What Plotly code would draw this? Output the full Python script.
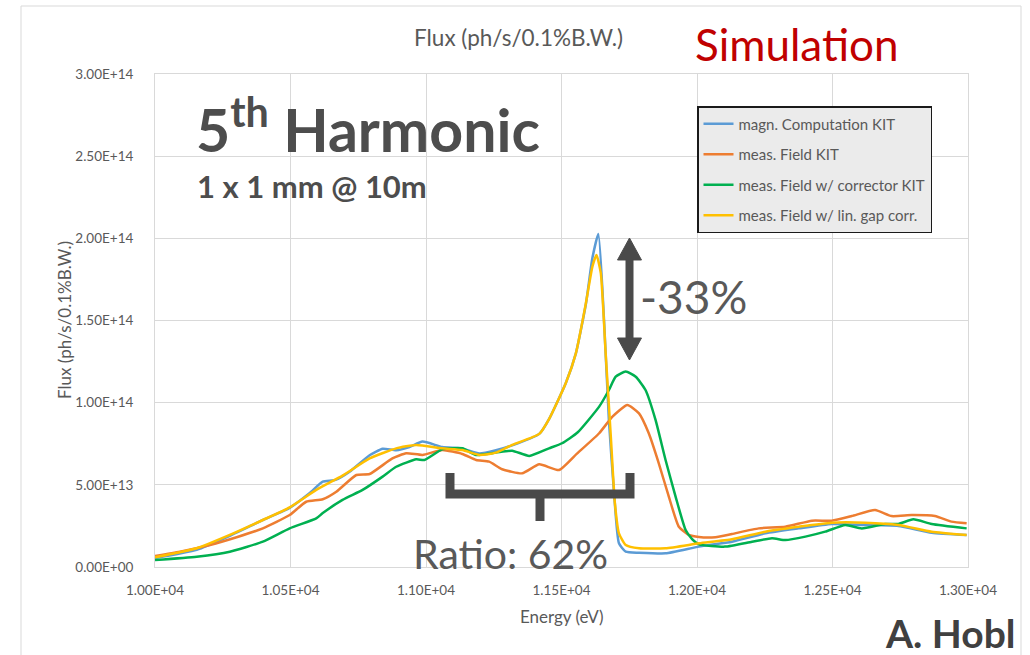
import plotly.graph_objects as go

# ---- data: photon flux (ph/s/0.1%B.W.) vs. energy (eV), 5th harmonic ----
energy_magn = [10000, 10154, 10276, 10398, 10497, 10571, 10619, 10666, 10718, 10792,
               10840, 10890, 10939, 10987, 11060, 11134, 11197, 11258, 11318, 11418,
               11454, 11516, 11553, 11590, 11614, 11636, 11657, 11675, 11694, 11712,
               11737, 11786, 11884, 12007, 12129, 12252, 12375, 12497, 12620, 12743,
               12866, 12995]
flux_magn = [0.55, 1.05, 1.90, 2.86, 3.60, 4.50, 5.19, 5.30, 5.80, 6.80,
             7.20, 7.10, 7.30, 7.63, 7.30, 7.20, 6.90, 7.10, 7.40, 8.10,
             9.00, 11.2, 13.0, 16.0, 18.8, 20.27, 15.0, 8.9, 4.5, 1.44,
             0.93, 0.87, 0.83, 1.24, 1.54, 2.05, 2.35, 2.62, 2.56, 2.50,
             2.09, 1.95]

energy_meas = [10000, 10092, 10203, 10301, 10398, 10497, 10558, 10619, 10669, 10743,
               10792, 10876, 10927, 10987, 11060, 11134, 11185, 11233, 11281, 11355,
               11418, 11491, 11557, 11639, 11688, 11743, 11786, 11822, 11859, 11896,
               11933, 11970, 12007, 12068, 12129, 12228, 12326, 12424, 12497, 12571,
               12657, 12718, 12792, 12878, 12939, 12995]
flux_meas = [0.67, 0.93, 1.34, 1.81, 2.35, 3.16, 3.97, 4.12, 4.58, 5.60,
             5.66, 6.61, 6.92, 6.82, 7.12, 6.88, 6.51, 6.41, 5.95, 5.70,
             6.25, 5.90, 6.90, 8.14, 9.15, 9.86, 9.35, 8.14, 6.31, 4.28,
             2.45, 1.95, 1.82, 1.81, 2.01, 2.35, 2.45, 2.82, 2.82, 3.10,
             3.47, 3.10, 3.16, 3.10, 2.76, 2.66]

energy_corr = [10000, 10154, 10276, 10398, 10497, 10595, 10619, 10692, 10766, 10840,
               10890, 10964, 10994, 11060, 11134, 11185, 11258, 11318, 11381, 11454,
               11502, 11560, 11639, 11675, 11700, 11737, 11774, 11810, 11847, 11884,
               11921, 11958, 11982, 12007, 12103, 12203, 12277, 12326, 12400, 12473,
               12547, 12608, 12694, 12743, 12798, 12866, 12995]
flux_corr = [0.43, 0.63, 0.93, 1.54, 2.35, 2.96, 3.28, 4.08, 4.69, 5.50,
             6.10, 6.55, 6.51, 7.16, 7.22, 6.82, 6.96, 7.08, 6.76, 7.22,
             7.53, 8.20, 9.76, 10.77, 11.58, 11.89, 11.58, 10.77, 8.95, 6.51,
             4.28, 2.25, 1.70, 1.38, 1.24, 1.54, 1.75, 1.64, 1.85, 2.15,
             2.56, 2.35, 2.62, 2.62, 2.90, 2.62, 2.35]

energy_gap = [10000, 10154, 10276, 10398, 10497, 10595, 10692, 10792, 10890, 10964,
              11060, 11134, 11197, 11258, 11318, 11418, 11454, 11516, 11553, 11590,
              11614, 11629, 11645, 11663, 11682, 11697, 11712, 11737, 11786, 11884,
              12007, 12129, 12252, 12375, 12497, 12620, 12743, 12866, 12995]
flux_gap = [0.59, 1.14, 1.95, 2.86, 3.63, 4.69, 5.56, 6.61, 7.22, 7.43,
            7.22, 7.12, 6.82, 6.96, 7.43, 8.10, 9.00, 11.2, 13.0, 16.05,
            18.28, 18.99, 17.88, 13.0, 7.93, 3.88, 2.05, 1.34, 1.14, 1.14,
            1.44, 1.69, 2.15, 2.45, 2.70, 2.70, 2.56, 2.15, 1.95]

FLUX_UNIT = 1e13

series_names = ["magn. Computation KIT", "meas. Field KIT",
                "meas. Field w/ corrector KIT", "meas. Field w/ lin. gap corr."]
series_colors = ["#5B9BD5", "#ED7D31", "#00B050", "#FFC000"]
series_x = [energy_magn, energy_meas, energy_corr, energy_gap]
series_y = [flux_magn, flux_meas, flux_corr, flux_gap]

x_ticks = [10000, 10500, 11000, 11500, 12000, 12500, 13000]
x_tick_labels = ["1.00E+04", "1.05E+04", "1.10E+04", "1.15E+04",
                 "1.20E+04", "1.25E+04", "1.30E+04"]
y_ticks = [0, 5e13, 1e14, 1.5e14, 2e14, 2.5e14, 3e14]
y_tick_labels = ["0.00E+00", "5.00E+13", "1.00E+14", "1.50E+14",
                 "2.00E+14", "2.50E+14", "3.00E+14"]

# ---- page geometry (pixels) ----
W, H = 1030, 655
L, R, T, B = 155, 968, 74, 567
FONT = "Lato"
GRID = "#d9d9d9"
TEXT = "#595959"
DARK = "#4a4a4a"


def xp(px):
    return (px - L) / (R - L)


def yp(py):
    return (B - py) / (B - T)


fig = go.Figure()
for i, (name, color, xs, ys) in enumerate(zip(series_names, series_colors, series_x, series_y)):
    fig.add_trace(go.Scatter(
        x=xs, y=[v * FLUX_UNIT for v in ys], name=name, mode="lines",
        legendgroup=f"g{i}",
        line=dict(color=color, width=2.5, shape="spline", smoothing=0.5),
    ))

axis_common = dict(
    showgrid=True, gridcolor=GRID, gridwidth=1,
    showline=True, linecolor=GRID, linewidth=1, mirror=True,
    zeroline=False, ticks="",
    tickfont=dict(family=FONT, size=13.5, color=TEXT),
)

fig.update_layout(
    width=W, height=H,
    margin=dict(l=L, r=W - R, t=T, b=H - B),
    paper_bgcolor="white", plot_bgcolor="white",
    font=dict(family=FONT, color=TEXT),
    xaxis=dict(range=[10000, 13000], tickvals=x_ticks, ticktext=x_tick_labels,
               ticklabelstandoff=11, **axis_common),
    yaxis=dict(range=[0, 3e14], tickvals=y_ticks, ticktext=y_tick_labels,
               ticklabelstandoff=18, **axis_common),
    legend=dict(
        x=xp(697), y=yp(106), xanchor="left", yanchor="top",
        bgcolor="#ebebeb", bordercolor="#1a1a1a", borderwidth=1.5,
        font=dict(family=FONT, size=15, color=TEXT),
        tracegroupgap=8, itemwidth=30,
    ),
    showlegend=True,
)

shapes = []
# outer chart frame
shapes.append(dict(type="rect", xref="paper", yref="paper",
                   x0=xp(21), x1=xp(1021), y0=yp(660), y1=yp(6),
                   line=dict(color=GRID, width=1), fillcolor="rgba(0,0,0,0)", layer="below"))

# double-headed vertical arrow
ax, top, bot = 629.5, 238, 360
sw, hw, hh = 3.5, 12, 22
arrow_pts = [(ax, top), (ax + hw, top + hh), (ax + sw, top + hh), (ax + sw, bot - hh),
             (ax + hw, bot - hh), (ax, bot), (ax - hw, bot - hh), (ax - sw, bot - hh),
             (ax - sw, top + hh), (ax - hw, top + hh)]
path = "M " + " L ".join(f"{xp(px):.5f},{yp(py):.5f}" for px, py in arrow_pts) + " Z"
shapes.append(dict(type="path", xref="paper", yref="paper", path=path,
                   fillcolor=DARK, line=dict(color=DARK, width=1)))

# bracket under the plateau
bracket = [(450, 473), (450, 494), (630, 494), (630, 473)]
bpath = "M " + " L ".join(f"{xp(px):.5f},{yp(py):.5f}" for px, py in bracket)
bpath += f" M {xp(540):.5f},{yp(494):.5f} L {xp(540):.5f},{yp(521):.5f}"
shapes.append(dict(type="path", xref="paper", yref="paper", path=bpath,
                   line=dict(color=DARK, width=9)))

fig.update_layout(shapes=shapes)


def label(text, px, py, size, color=TEXT, xanchor="center", angle=0):
    fig.add_annotation(text=text, xref="paper", yref="paper", x=xp(px), y=yp(py),
                       xanchor=xanchor, yanchor="middle", showarrow=False,
                       textangle=angle, font=dict(family=FONT, size=size, color=color))


label("Flux (ph/s/0.1%B.W.)", 518, 38, 22.5)
label("Simulation", 797, 44, 44, color="#C00000")
label("<b>5<sup>th</sup> Harmonic</b>", 194, 125, 59, color="#4d4d4d", xanchor="left")
label("<b>1 x 1 mm @ 10m</b>", 195, 186, 31, color="#4d4d4d", xanchor="left")
label("-33%", 693, 296, 46)
label("Ratio: 62%", 510, 553, 41)
label("Energy (eV)", 561, 616, 17)
label("Flux (ph/s/0.1%B.W.)", 64, 320, 17, angle=-90)
label("<b>A. Hobl</b>", 950, 633, 39, color="#404040")

fig.write_html("out.html")
